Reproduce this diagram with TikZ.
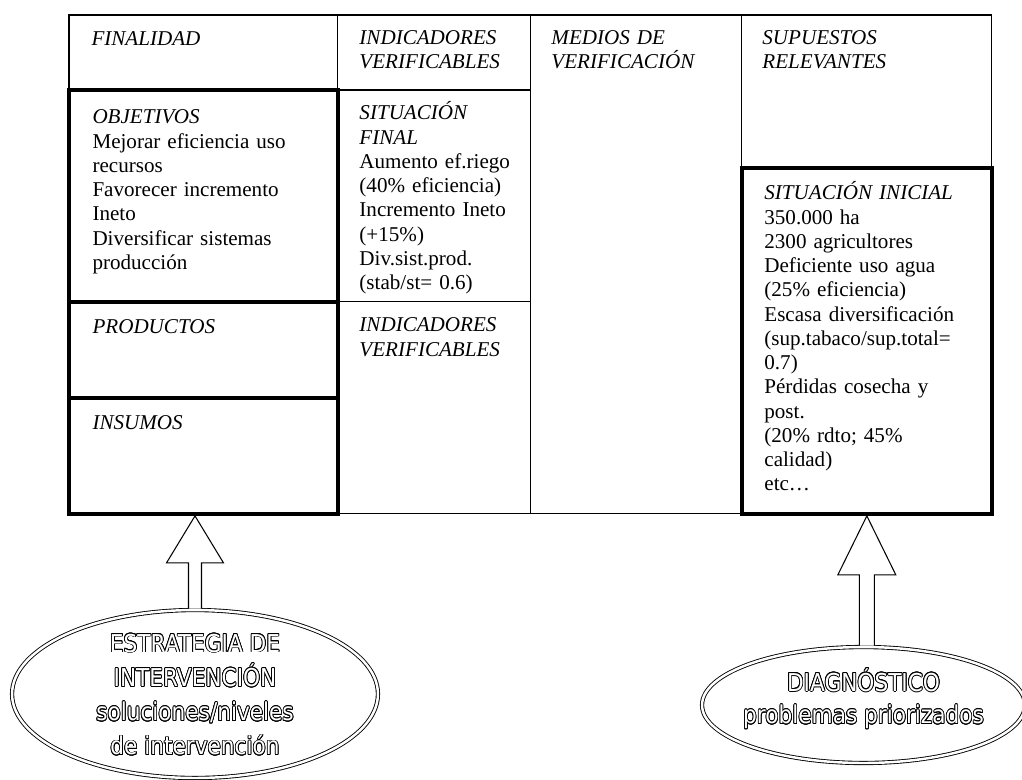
\documentclass[tikz,border=0pt]{standalone}
\usepackage{fontspec}
\setmainfont{Liberation Serif}
\newfontfamily\ovalfont[FakeStretch=0.88]{DejaVu Sans}
\usepackage{contour}
\contourlength{0.45pt}
\usetikzlibrary{positioning,shapes.geometric,calc}

\newcommand{\hueca}[1]{\contour{black}{#1}}

\tikzstyle{tcell} = [rectangle, draw=black, semithick, inner sep=0pt, outer sep=0pt]
\tikzstyle{bcell} = [tcell, line width=2.5pt]
\tikzstyle{ctext} = [anchor=base west, inner sep=0pt, text width=4.8cm, align=left, font=\fontsize{12}{13.8}\selectfont]
\tikzstyle{oval} = [ellipse, draw=black, double, double distance=1.4pt, line width=0.5pt, inner sep=0pt, outer sep=0pt]
\tikzstyle{ovaltext} = [align=center, inner sep=0pt, text=white, font=\ovalfont\fontsize{14}{19.5}\selectfont]
\tikzstyle{hollow} = [draw=black, fill=white, semithick, line join=miter]

\begin{document}
\begin{tikzpicture}[x=0.02cm, y=-0.02cm, semithick]
\useasboundingbox (0,0) rectangle (1022,779);

% columna 1
\node[tcell, minimum width=5.38cm, minimum height=1.5cm, anchor=north west] (Finalidad) at (69,15) {};
\node[bcell, minimum width=5.38cm, minimum height=4.24cm] (Objetivos) [below=0pt of Finalidad] {};
\node[bcell, minimum width=5.38cm, minimum height=1.92cm] (Productos) [below=0pt of Objetivos] {};
\node[bcell, minimum width=5.38cm, minimum height=2.32cm] (Insumos) [below=0pt of Productos] {};

% columna 2
\node[tcell, minimum width=3.86cm, minimum height=1.5cm] (IndicHead) [right=0pt of Finalidad] {};
\node[tcell, minimum width=3.86cm, minimum height=4.24cm] (SitFinal) [below=0pt of IndicHead] {};
\node[tcell, minimum width=3.86cm, minimum height=4.24cm] (IndicProd) [below=0pt of SitFinal] {};

% columnas 3 y 4
\node[tcell, minimum width=4.22cm, minimum height=9.98cm, anchor=north west] (Medios) at (IndicHead.north east) {};
\node[tcell, minimum width=5cm, minimum height=3.06cm, anchor=north west] (Supuestos) at (Medios.north east) {};
\node[bcell, minimum width=5cm, minimum height=6.92cm] (SitInicial) [below=0pt of Supuestos] {};

% textos
\node[ctext] (tFinalidad) at ($(Finalidad.north west)+(22,30)$) {\textit{FINALIDAD}};
\node[ctext] (tObjetivos) at ($(Objetivos.north west)+(23,34)$) {\textit{OBJETIVOS}\\ Mejorar eficiencia uso\\ recursos\\ Favorecer incremento\\ Ineto\\ Diversificar sistemas\\ producción};
\node[ctext] (tProductos) at ($(Productos.north west)+(23,32)$) {\textit{PRODUCTOS}};
\node[ctext] (tInsumos) at ($(Insumos.north west)+(23,32)$) {\textit{INSUMOS}};

\node[ctext] (tIndicHead) at ($(IndicHead.north west)+(21,29)$) {\textit{INDICADORES}\\ \textit{VERIFICABLES}};
\node[ctext] (tSitFinal) at ($(SitFinal.north west)+(21,30)$) {\textit{SITUACIÓN}\\ \textit{FINAL}\\ Aumento ef.riego\\ (40\% eficiencia)\\ Incremento Ineto\\ (+15\%)\\ Div.sist.prod.\\ (stab/st= 0.6)};
\node[ctext] (tIndicProd) at ($(IndicProd.north west)+(21,30)$) {\textit{INDICADORES}\\ \textit{VERIFICABLES}};

\node[ctext] (tMedios) at ($(Medios.north west)+(20,29)$) {\textit{MEDIOS DE}\\ \textit{VERIFICACIÓN}};
\node[ctext] (tSupuestos) at ($(Supuestos.north west)+(20,29)$) {\textit{SUPUESTOS}\\ \textit{RELEVANTES}};
\node[ctext] (tSitInicial) at ($(SitInicial.north west)+(22,32)$) {\textit{SITUACIÓN INICIAL}\\ 350.000 ha\\ 2300 agricultores\\ Deficiente uso agua\\ (25\% eficiencia)\\ Escasa diversificación\\ (sup.tabaco/sup.total=\\ 0.7)\\ Pérdidas cosecha y\\ post.\\ (20\% rdto; 45\%\\ calidad)\\ etc…};

% elipses
\node[oval, minimum width=7.32cm, minimum height=3.36cm] (Estrategia) at (195,694) {};
\node[oval, minimum width=6.46cm, minimum height=2.32cm] (Diagnostico) at (863.5,705) {};

\node[ovaltext] (tEstrategia) at ($(Estrategia.center)+(0,1)$) {\hueca{ESTRATEGIA DE}\\ \hueca{INTERVENCIÓN}\\ \hueca{soluciones/niveles}\\ \hueca{de intervención}};
\node[ovaltext, font=\ovalfont\fontsize{14}{18.5}\selectfont] (tDiagnostico) at ($(Diagnostico.center)+(0,-6)$) {\hueca{DIAGNÓSTICO}\\ \hueca{problemas priorizados}};

% flechas huecas
\coordinate (tipEstrategia) at ($(Estrategia.north |- Insumos.south)+(0,2)$);
\draw[hollow] ($(Estrategia.north)+(-6.5,-1.5)$) -- ($(tipEstrategia)+(-6.5,47)$) -- ($(tipEstrategia)+(-28.5,47)$) -- (tipEstrategia) -- ($(tipEstrategia)+(28.5,47)$) -- ($(tipEstrategia)+(6.5,47)$) -- ($(Estrategia.north)+(6.5,-1.5)$);

\coordinate (tipDiagnostico) at ($(SitInicial.south)+(0,2)$);
\draw[hollow] ($(tipDiagnostico |- Diagnostico.north)+(-7.5,-1.5)$) -- ($(tipDiagnostico)+(-7.5,59)$) -- ($(tipDiagnostico)+(-29,59)$) -- (tipDiagnostico) -- ($(tipDiagnostico)+(29,59)$) -- ($(tipDiagnostico)+(7.5,59)$) -- ($(tipDiagnostico |- Diagnostico.north)+(7.5,-1.5)$);

\end{tikzpicture}
\end{document}
